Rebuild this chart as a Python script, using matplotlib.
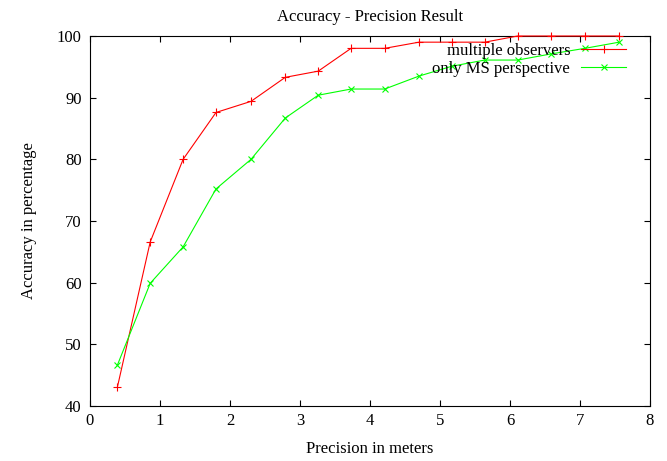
import numpy as np
import matplotlib
matplotlib.use('Agg')
import matplotlib.pyplot as plt

precision = [0.39, 0.86, 1.33, 1.80, 2.30, 2.79, 3.26, 3.73, 4.21, 4.70,
             5.17, 5.64, 6.11, 6.59, 7.07, 7.56]
acc_multi = [43.0, 66.6, 80.0, 87.6, 89.4, 93.3, 94.3, 98.0, 98.0, 99.0,
             99.0, 99.0, 100.0, 100.0, 100.0, 100.0]
acc_ms = [46.6, 59.9, 65.8, 75.2, 80.0, 86.7, 90.4, 91.4, 91.4, 93.5,
          95.1, 96.1, 96.1, 97.1, 98.0, 99.0]

plt.rcParams['font.family'] = 'Liberation Serif'
plt.rcParams['font.size'] = 12

fig = plt.figure(figsize=(6.67, 4.61), dpi=100)
ax = fig.add_axes([90/667, 55/461, 560/667, 370/461])

ax.plot(precision, acc_multi, color='#ff0000', lw=0.8, marker='+', ms=6,
        mew=0.8, label='multiple observers', clip_on=False, zorder=3)
ax.plot(precision, acc_ms, color='#00ff00', lw=0.8, marker='x', ms=4.5,
        mew=0.8, label='only MS perspective', clip_on=False, zorder=3)

ax.set_xlim(0, 8)
ax.set_ylim(40, 100)
ax.set_xticks(range(0, 9))
ax.set_yticks(range(40, 101, 10))
ax.tick_params(direction='in', top=True, right=True, length=4, width=0.8,
               pad=5)
ax.tick_params(axis='y', pad=6)
for s in ax.spines.values():
    s.set_linewidth(0.8)

ax.set_title('Accuracy - Precision Result', fontsize=12, pad=11)
ax.set_xlabel('Precision in meters', labelpad=9)
ax.set_ylabel('Accuracy in percentage', labelpad=14)

leg = ax.legend(loc='upper right', bbox_to_anchor=(0.978, 1.012),
                markerfirst=False, frameon=False, handlelength=2.7,
                handletextpad=0.65, labelspacing=0.12, borderpad=0.2)

fig.savefig('out.png', dpi=100)
